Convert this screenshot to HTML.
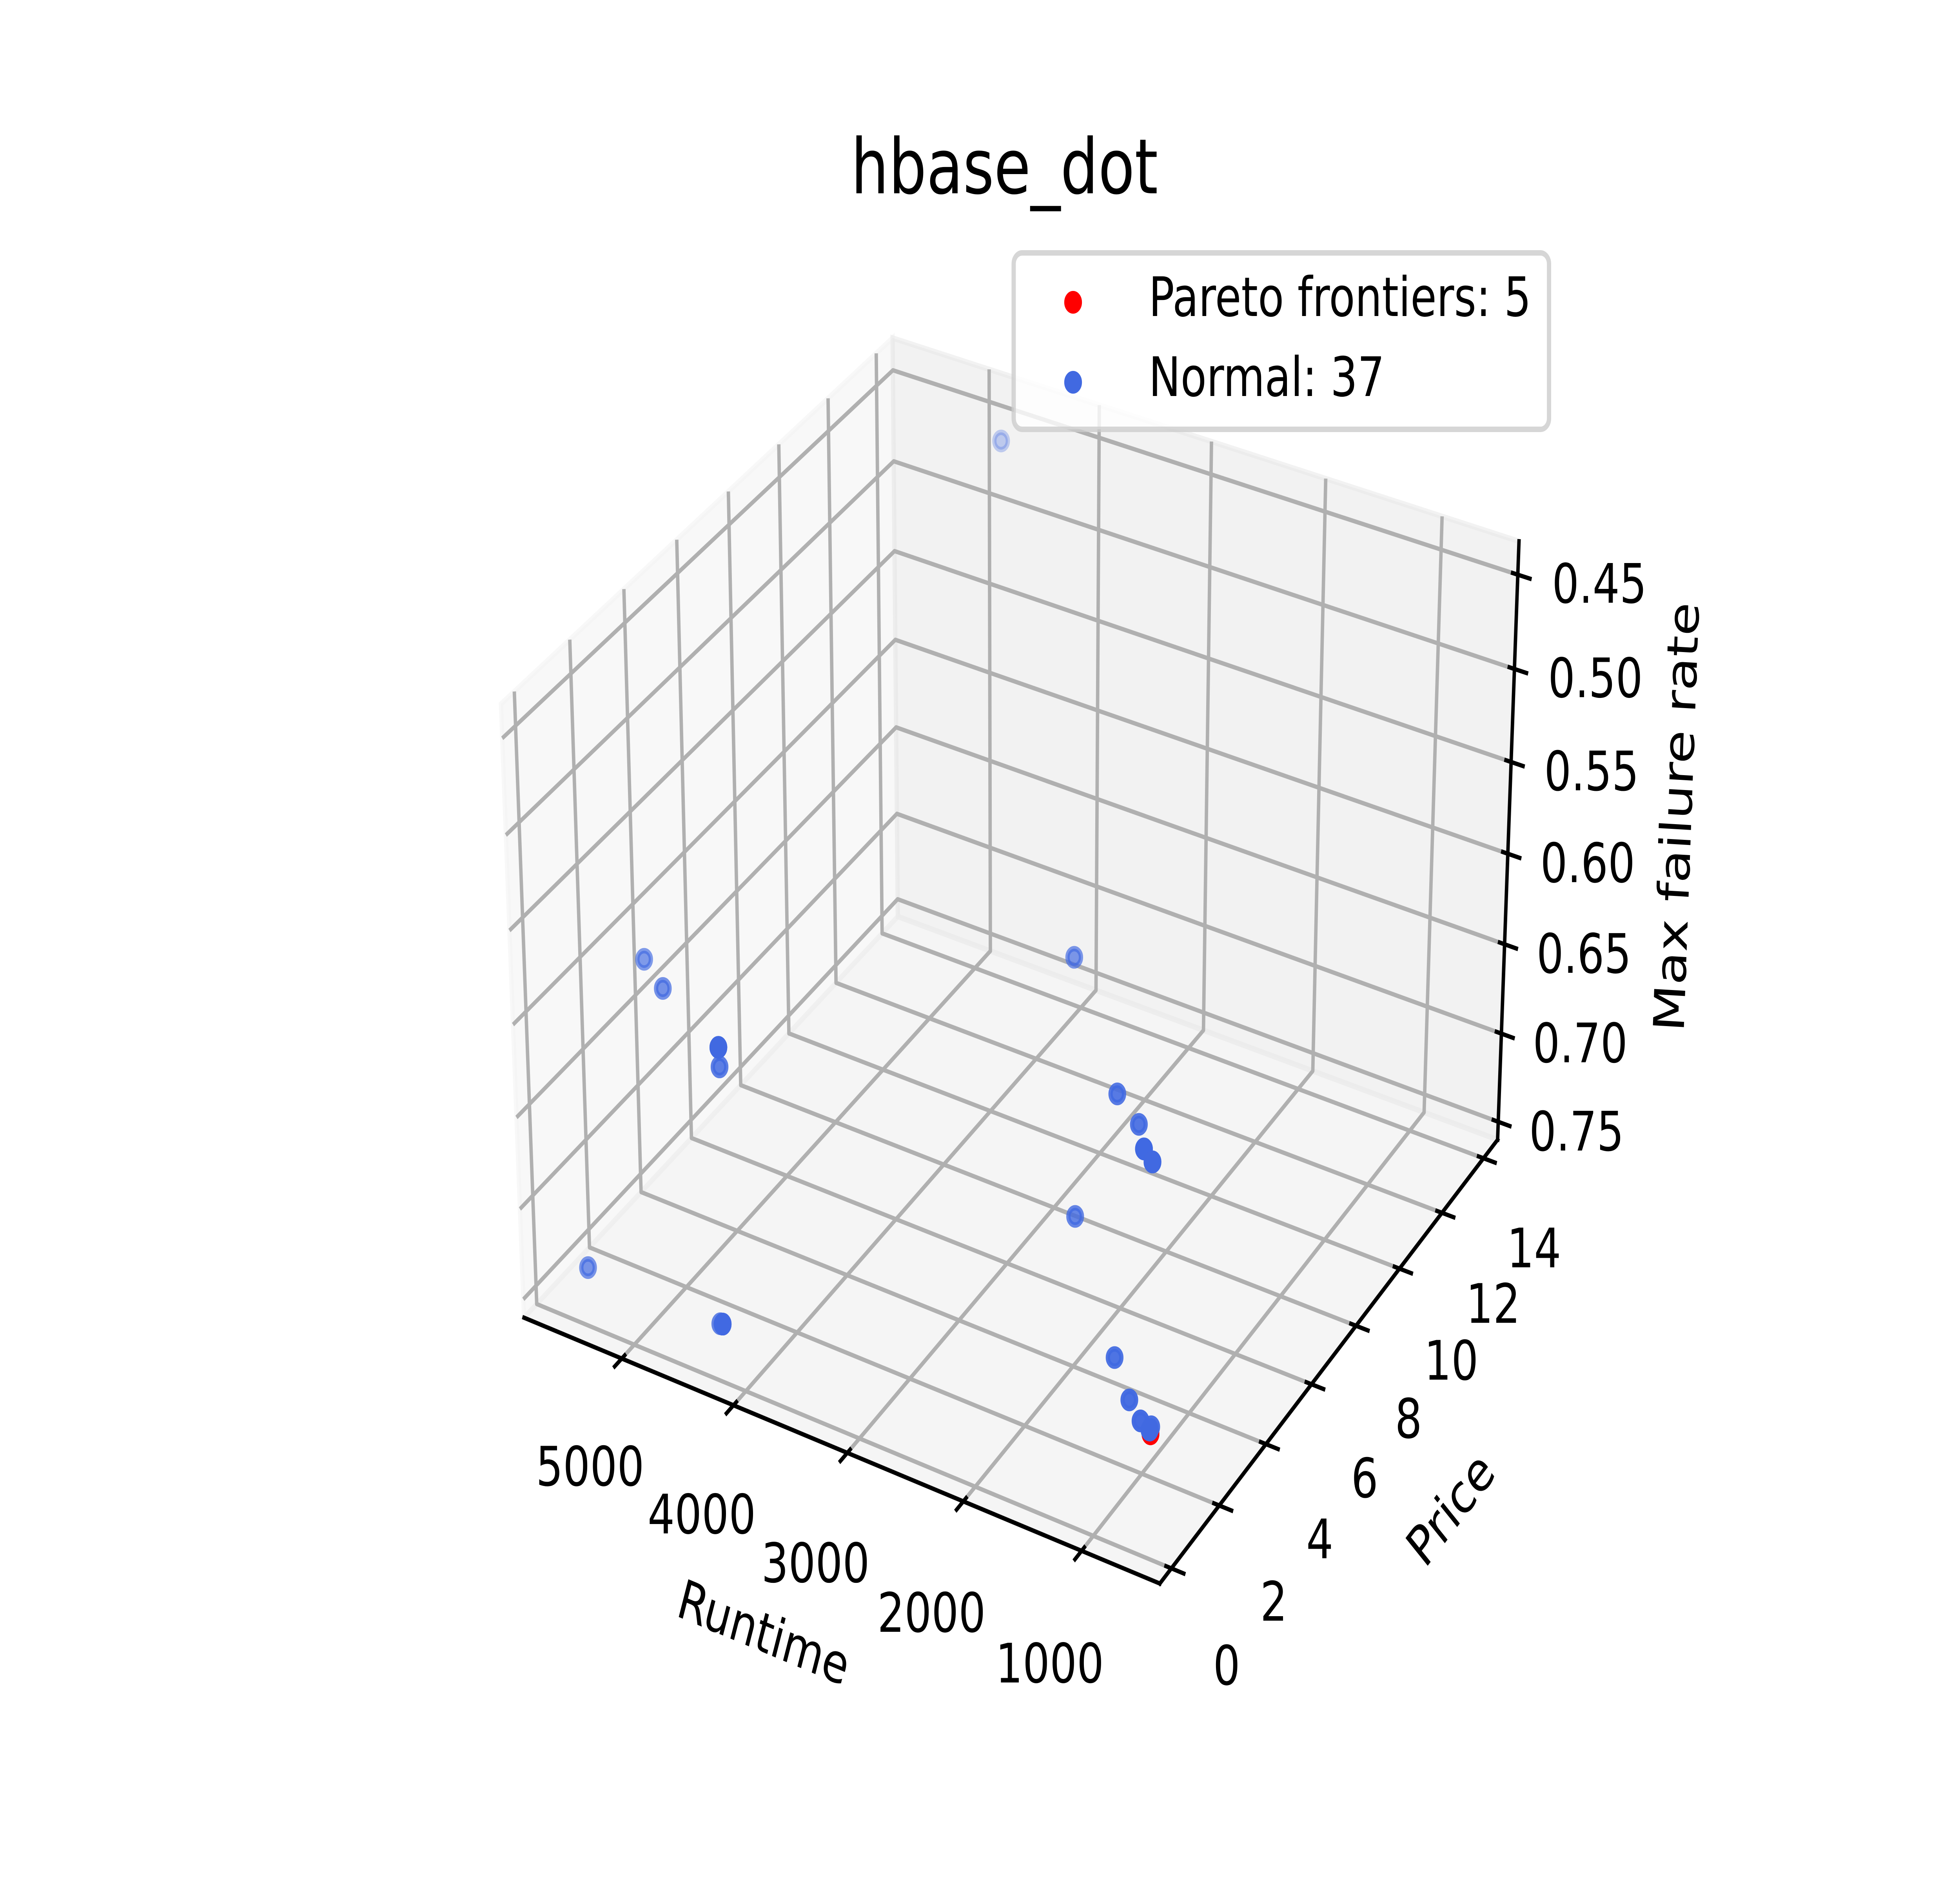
<!DOCTYPE html>
<html lang="en">
<head>
<meta charset="utf-8">
<title>hbase_dot</title>
<style>
html,body{margin:0;padding:0;background:#fff;width:100%;height:100%;overflow:hidden;}
svg#chart{display:block;width:100vw;height:100vh;}
text{font-family:"DejaVu Sans","Liberation Sans",sans-serif;fill:#000;}
</style>
</head>
<body>
<svg id="chart" xmlns="http://www.w3.org/2000/svg" width="6400" height="4800" viewBox="0 0 6400 4800" preserveAspectRatio="none">
  <rect x="0" y="0" width="6400" height="4800" fill="#ffffff"/>
  <g id="panes"></g>
  <g id="grid" fill="none" stroke="#b0b0b0" stroke-width="11.11" stroke-linejoin="round"></g>
  <g id="axes" fill="none" stroke="#000" stroke-width="11.11" stroke-linecap="square"></g>
  <g id="ticks" fill="none" stroke="#000" stroke-width="11.11"></g>
  <g id="tickLabels" font-size="138.89" text-anchor="middle"></g>
  <g id="axisLabels" font-size="138.89" text-anchor="middle"></g>
  <g id="points"></g>
  <text x="3280" y="493" font-size="194.44" text-anchor="middle">hbase_dot</text>
  <g>
    <rect x="3310" y="645" width="1748" height="450" rx="27.8" ry="27.8" fill="#fff" fill-opacity="0.8" stroke="#ccc" stroke-opacity="0.8" stroke-width="13.89"/>
    <circle cx="3504" cy="771" r="22" fill="#ff0000" stroke="#ff0000" stroke-width="13.89"/>
    <text x="3751" y="806" font-size="138.89">Pareto frontiers: 5</text>
    <circle cx="3504" cy="975" r="22" fill="#4169e1" stroke="#4169e1" stroke-width="13.89"/>
    <text x="3751" y="1010" font-size="138.89">Normal: 37</text>
  </g>
</svg>
<script>
// ---- chart data ----
const runtimeNormal = [4687,5576,5287,4559,4559,4559,4559,4559,4538,2708,1869,1651,1560,1560,1560,1560,1467,1467,1467,1467,2104,5408,4251,4224,4224,4224,4224,1415,1209,1071,1044,966,966,966,966,966,966];
const priceNormal = [13.73,3.09,2.58,1.59,1.59,1.59,1.59,1.59,1.53,7.42,5.16,5.00,4.77,4.77,4.77,4.77,4.67,4.67,4.67,4.67,4.57,0.018,0.146,0.122,0.122,0.122,0.122,2.88,2.49,2.28,2.60,2.14,2.14,2.14,2.14,2.14,2.14];
const failureNormal = [0.4533,0.6098,0.6115,0.6116,0.6116,0.6116,0.6116,0.6116,0.6207,0.6058,0.6264,0.6351,0.6426,0.6426,0.6426,0.6426,0.6458,0.6458,0.6458,0.6458,0.6894,0.7281,0.7319,0.7310,0.7310,0.7310,0.7310,0.7221,0.7335,0.7379,0.7457,0.7378,0.7378,0.7378,0.7378,0.7378,0.7378];
const runtimePareto = [955,955,955,955,955];
const pricePareto = [2.125,2.125,2.125,2.125,2.125];
const failurePareto = [0.7393,0.7393,0.7393,0.7393,0.7393];
const runtimeTicks = [5000,4000,3000,2000,1000];
const priceTicks = [0,2,4,6,8,10,12,14];
const failureTicks = [0.45,0.50,0.55,0.60,0.65,0.70,0.75];
const runtimeLimits = [5780,460];
const priceLimits = [-0.172,14.387];
const failureLimits = [0.7537,0.4390];

// ---- 3D axis functions (elev 30, azim -60, dist 10) ----
const BOX = [1.142857,1.142857,0.857143];
const LOW = BOX.map(v => -v/48);
const HIGH = BOX.map(v => v*49/48);
const CENTER = BOX.map(v => v/2);
const U = [0.866025,0.5,0];
const V = [-0.25,0.433013,0.866025];
const W = [0.433013,-0.75,0.5];
const DIST = 10;
const VIEW_MIN = -0.095;
const PX_PER_UNIT = 3696/0.185;
const LEFT = 1432, BOTTOM = 4272;

function dot(a,b){return a[0]*b[0]+a[1]*b[1]+a[2]*b[2];}
function boxX(v){return (v-runtimeLimits[0])/(runtimeLimits[1]-runtimeLimits[0])*BOX[0];}
function boxY(v){return (v-priceLimits[0])/(priceLimits[1]-priceLimits[0])*BOX[1];}
function boxZ(v){return (v-failureLimits[0])/(failureLimits[1]-failureLimits[0])*BOX[2];}
function depth(p){
  const q=[p[0]-CENTER[0],p[1]-CENTER[1],p[2]-CENTER[2]];
  return dot(W,q);
}
function project(p){
  const q=[p[0]-CENTER[0],p[1]-CENTER[1],p[2]-CENTER[2]];
  const d=DIST-dot(W,q);
  return [
    LEFT+(dot(U,q)/d-VIEW_MIN)*PX_PER_UNIT,
    BOTTOM-(dot(V,q)/d-VIEW_MIN)*PX_PER_UNIT
  ];
}
function pts(list){return list.map(p=>{const s=project(p);return s[0].toFixed(1)+','+s[1].toFixed(1);}).join(' ');}
const NS='http://www.w3.org/2000/svg';
function make(tag,parent,attrs,txt){
  const el=document.createElementNS(NS,tag);
  for(const k in attrs){el.setAttribute(k,attrs[k]);}
  if(txt!==undefined){el.textContent=txt;}
  document.getElementById(parent).appendChild(el);
  return el;
}

// ---- panes ----
const leftPane=make('polygon','panes',{points:pts([[LOW[0],LOW[1],LOW[2]],[LOW[0],HIGH[1],LOW[2]],[LOW[0],HIGH[1],HIGH[2]],[LOW[0],LOW[1],HIGH[2]]]),fill:'rgb(242,242,242)','fill-opacity':0.5,stroke:'rgb(242,242,242)','stroke-opacity':0.5,'stroke-width':13.89});


const backPane=make('polygon','panes',{points:pts([[LOW[0],HIGH[1],LOW[2]],[HIGH[0],HIGH[1],LOW[2]],[HIGH[0],HIGH[1],HIGH[2]],[LOW[0],HIGH[1],HIGH[2]]]),fill:'rgb(230,230,230)','fill-opacity':0.5,stroke:'rgb(230,230,230)','stroke-opacity':0.5,'stroke-width':13.89});


const floorPane=make('polygon','panes',{points:pts([[LOW[0],LOW[1],LOW[2]],[HIGH[0],LOW[1],LOW[2]],[HIGH[0],HIGH[1],LOW[2]],[LOW[0],HIGH[1],LOW[2]]]),fill:'rgb(236,236,236)','fill-opacity':0.5,stroke:'rgb(236,236,236)','stroke-opacity':0.5,'stroke-width':13.89});



// ---- axis lines ----
const xAxisLine=make('polyline','axes',{points:pts([[LOW[0],LOW[1],LOW[2]],[HIGH[0],LOW[1],LOW[2]]])});


const yAxisLine=make('polyline','axes',{points:pts([[HIGH[0],LOW[1],LOW[2]],[HIGH[0],HIGH[1],LOW[2]]])});


const zAxisLine=make('polyline','axes',{points:pts([[HIGH[0],HIGH[1],LOW[2]],[HIGH[0],HIGH[1],HIGH[2]]])});



// ---- ticks, grid and tick labels ----
const TICK_OUT=0.025, TICK_IN=0.0125, DIGIT_HALF=50.6;
function placeLabel(p,txt,name){
  const s=project(p);
  const t=make('text','tickLabels',{x:s[0].toFixed(1),y:(s[1]+DIGIT_HALF).toFixed(1)},txt);
  
  
}
runtimeTicks.forEach(v=>{
  const b=boxX(v);
  const g=make('polyline','grid',{points:pts([[b,LOW[1],LOW[2]],[b,HIGH[1],LOW[2]],[b,HIGH[1],HIGH[2]]])});
  
  
  const k=make('polyline','ticks',{points:pts([[b,LOW[1]-TICK_OUT,LOW[2]],[b,LOW[1]+TICK_IN,LOW[2]]])});
  
  
  placeLabel([b,LOW[1]-0.100,LOW[2]-0.1055],String(v),'runtime-tick-label');
});
priceTicks.forEach(v=>{
  const b=boxY(v);
  const g=make('polyline','grid',{points:pts([[LOW[0],b,HIGH[2]],[LOW[0],b,LOW[2]],[HIGH[0],b,LOW[2]]])});
  
  
  const k=make('polyline','ticks',{points:pts([[HIGH[0]+TICK_OUT,b,LOW[2]],[HIGH[0]-TICK_IN,b,LOW[2]]])});
  
  
  placeLabel([HIGH[0]+0.100,b,LOW[2]-0.108],String(v),'price-tick-label');
});
failureTicks.forEach(v=>{
  const b=boxZ(v);
  const g=make('polyline','grid',{points:pts([[HIGH[0],HIGH[1],b],[LOW[0],HIGH[1],b],[LOW[0],LOW[1],b]])});
  
  
  const k=make('polyline','ticks',{points:pts([[HIGH[0]+TICK_OUT,HIGH[1],b],[HIGH[0]-TICK_IN,HIGH[1],b]])});
  
  
  placeLabel([HIGH[0]+0.125,HIGH[1]+0.046,b],v.toFixed(2),'failure-tick-label');
});

// ---- axis titles ----
function axisTitle(a,b,dx,dy,txt,name){
  const m=project([(a[0]+b[0])/2,(a[1]+b[1])/2,(a[2]+b[2])/2]);
  const s=project(a), e=project(b);
  let ang=Math.atan2(e[1]-s[1],e[0]-s[0])*180/Math.PI;
  if(ang>90){ang-=180;}
  if(ang<-90){ang+=180;}
  const t=make('text','axisLabels',{x:0,y:DIGIT_HALF,transform:'translate('+(m[0]+dx).toFixed(1)+' '+(m[1]+dy).toFixed(1)+') rotate('+ang.toFixed(2)+')'},txt);
  
  
}
axisTitle([LOW[0],LOW[1],LOW[2]],[HIGH[0],LOW[1],LOW[2]],-227,471,'Runtime','x-axis-title');
axisTitle([HIGH[0],LOW[1],LOW[2]],[HIGH[0],HIGH[1],LOW[2]],371,399,'Price','y-axis-title');
axisTitle([HIGH[0],HIGH[1],LOW[2]],[HIGH[0],HIGH[1],HIGH[2]],548,-77,'Max failure rate','z-axis-title');

// ---- scatter series with depth shading ----
function drawSeries(xs,ys,zs,color,name){
  const items=xs.map((x,i)=>{
    const p=[boxX(x),boxY(ys[i]),boxZ(zs[i])];
    return {p:p,w:depth(p)};
  });
  const ws=items.map(o=>o.w);
  const wMax=Math.max.apply(null,ws), wMin=Math.min.apply(null,ws);
  const span=wMax-wMin;
  items.sort((a,b)=>a.w-b.w);
  items.forEach(o=>{
    const s=project(o.p);
    const alpha=span>0 ? 1-0.7*(wMax-o.w)/span : 1;
    const c=make('circle','points',{cx:s[0].toFixed(1),cy:s[1].toFixed(1),r:22,fill:color,stroke:color,'stroke-width':13.89,'fill-opacity':alpha.toFixed(3),'stroke-opacity':alpha.toFixed(3)});
    
    
  });
}
drawSeries(runtimePareto,pricePareto,failurePareto,'#ff0000','pareto-point');
drawSeries(runtimeNormal,priceNormal,failureNormal,'#4169e1','normal-point');
</script>
</body>
</html>
